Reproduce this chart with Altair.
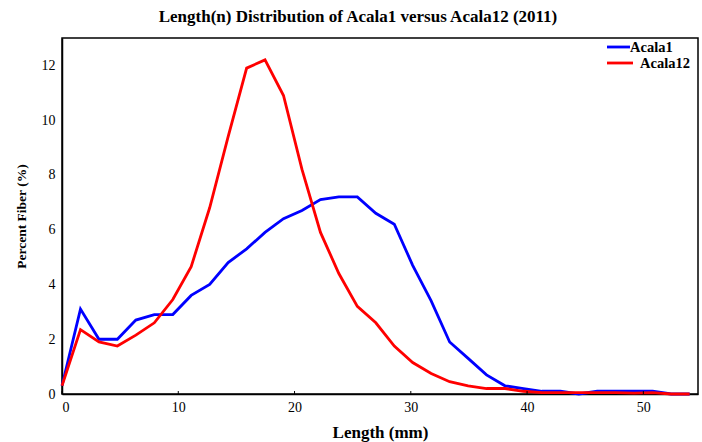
import altair as alt
import pandas as pd

# Fiber length bins (1/16 inch steps, in mm)
length_mm = [0.0, 1.59, 3.18, 4.76, 6.35, 7.94, 9.53, 11.11, 12.70, 14.29,
             15.88, 17.46, 19.05, 20.64, 22.23, 23.81, 25.40, 26.99, 28.58, 30.16,
             31.75, 33.34, 34.93, 36.51, 38.10, 39.69, 41.28, 42.86, 44.45, 46.04,
             47.63, 49.21, 50.80, 52.39, 53.98]

acala1 = [0.3, 3.1, 2.0, 2.0, 2.7, 2.9, 2.9, 3.6, 4.0, 4.8,
          5.3, 5.9, 6.4, 6.7, 7.1, 7.2, 7.2, 6.6, 6.2, 4.7,
          3.4, 1.9, 1.3, 0.7, 0.3, 0.2, 0.1, 0.1, 0.0, 0.1,
          0.1, 0.1, 0.1, 0.0, 0.0]

acala12 = [0.3, 2.35, 1.9, 1.75, 2.15, 2.6, 3.45, 4.65, 6.8, 9.4,
           11.9, 12.2, 10.9, 8.2, 5.9, 4.4, 3.2, 2.6, 1.75, 1.15,
           0.75, 0.45, 0.3, 0.2, 0.2, 0.1, 0.05, 0.05, 0.05, 0.05,
           0.05, 0.03, 0.05, 0.0, 0.0]

series_names = ["Acala1", "Acala12"]
series_colors = ["#0000ff", "#ff0000"]
x_ticks = [0, 10, 20, 30, 40, 50]
y_ticks = [0, 2, 4, 6, 8, 10, 12]

rows = []
for name, vals in zip(series_names, [acala1, acala12]):
    for x, v in zip(length_mm, vals):
        rows.append({"Length": x, "Percent": v, "Series": name})
df = pd.DataFrame(rows)

W, H = 636, 356
serif = "Liberation Serif"
LW = 2.8

x_scale = alt.Scale(domain=[0, 54.7], nice=False, zero=False)
y_scale = alt.Scale(domain=[0, 13], nice=False)
color_scale = alt.Scale(domain=series_names, range=series_colors)

lines = alt.Chart(df).mark_line(strokeWidth=LW).encode(
    x=alt.X("Length:Q", scale=x_scale,
            axis=alt.Axis(title="Length (mm)", values=x_ticks, ticks=False,
                          grid=False, labelPadding=6, titlePadding=10,
                          titleFontSize=17)),
    y=alt.Y("Percent:Q", scale=y_scale,
            axis=alt.Axis(title="Percent Fiber (%)", values=y_ticks, ticks=False,
                          grid=False, labelPadding=7, titlePadding=13,
                          titleFontSize=13.5)),
    color=alt.Color("Series:N", scale=color_scale, legend=None),
)

# short inward tick marks on the bottom axis
tick_df = pd.DataFrame({"t": x_ticks})
ticks = alt.Chart(tick_df).mark_rule(color="black", strokeWidth=1).encode(
    x=alt.X("t:Q", scale=x_scale),
    y=alt.value(H - 3),
    y2=alt.value(H),
)

# legend in the upper right corner: a line swatch and a bold label per series
def legend_entry(i, x0, x1, tx, ty):
    entry = pd.DataFrame({"Series": [series_names[i]]})
    swatch = alt.Chart(entry).mark_rule(strokeWidth=LW).encode(
        x=alt.value(x0), x2=alt.value(x1), y=alt.value(ty),
        color=alt.Color("Series:N", scale=color_scale, legend=None),
    )
    label = alt.Chart(entry).mark_text(
        align="left", baseline="middle", font=serif, fontSize=14.5,
        fontWeight="bold", color="black",
    ).encode(x=alt.value(tx), y=alt.value(ty + 1), text="Series:N")
    return swatch + label

legend = legend_entry(0, 545, 568, 568, 9) + legend_entry(1, 545, 571, 578, 25)

chart = alt.layer(lines, ticks, legend).properties(
    width=W, height=H,
    title=alt.TitleParams("Length(n) Distribution of Acala1 versus Acala12 (2011)",
                          font=serif, fontSize=17, fontWeight="bold",
                          color="black", offset=12, dx=-22),
    autosize=alt.AutoSizeParams(type="none"),
    padding={"left": 62, "top": 38, "right": 4, "bottom": 48},
).configure_axis(
    labelFont=serif, labelFontSize=14, labelColor="black",
    titleFont=serif, titleFontWeight="bold", titleColor="black",
    domainColor="black", domainWidth=1.5,
).configure_view(
    stroke="black", strokeWidth=1.5,
)

chart.save("out.html", embed_options={"renderer": "svg", "actions": False})
